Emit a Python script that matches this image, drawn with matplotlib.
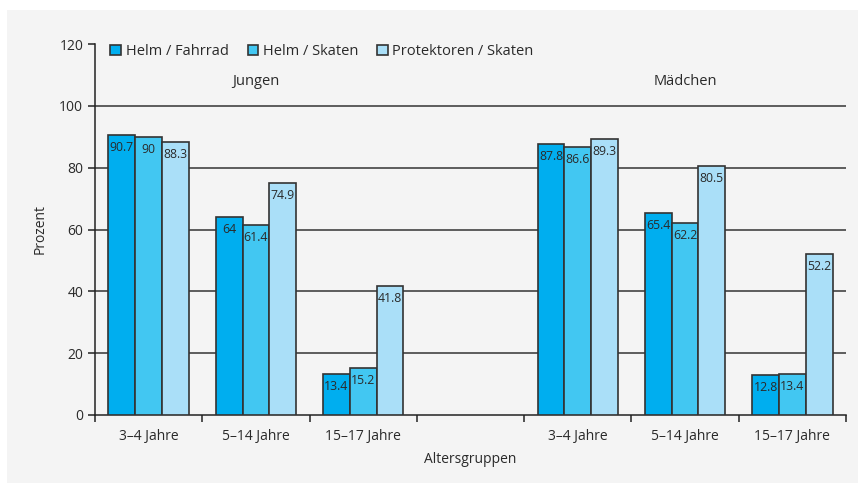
import matplotlib
matplotlib.use("Agg")
import matplotlib.pyplot as plt
from matplotlib.patches import Rectangle
import numpy as np

plt.rcParams['font.family'] = ['Open Sans', 'DejaVu Sans']

age_groups = ["3–4 Jahre", "5–14 Jahre", "15–17 Jahre"]
genders = ["Jungen", "Mädchen"]
series_names = ["Helm / Fahrrad", "Helm / Skaten", "Protektoren / Skaten"]

jungen_helm_fahrrad = [90.7, 64, 13.4]
jungen_helm_skaten = [90, 61.4, 15.2]
jungen_protektoren = [88.3, 74.9, 41.8]

maedchen_helm_fahrrad = [87.8, 65.4, 12.8]
maedchen_helm_skaten = [86.6, 62.2, 13.4]
maedchen_protektoren = [89.3, 80.5, 52.2]

colors = ["#00aeef", "#42c7f2", "#aadff8"]
edge = "#333333"
text_color = "#2a2a2a"

series = [
    jungen_helm_fahrrad + maedchen_helm_fahrrad,
    jungen_helm_skaten + maedchen_helm_skaten,
    jungen_protektoren + maedchen_protektoren,
]

# slots 0-2 for boys, slot 3 empty, slots 4-6 for girls
slots = np.array([0, 1, 2, 4, 5, 6])
bar_w = 0.25

fig = plt.figure(figsize=(8.58, 4.83), dpi=100)
fig.patch.set_facecolor("white")
fig.patches.append(Rectangle((7 / 858, 0), 1 - 7 / 858, 1 - 10 / 483,
                             transform=fig.transFigure, facecolor="#f4f4f4",
                             edgecolor="none", zorder=-10))

ax = fig.add_axes([95 / 858, 1 - 415 / 483, (846 - 95) / 858, (415 - 44) / 483])
ax.set_facecolor("none")

for i, (vals, c, name) in enumerate(zip(series, colors, series_names)):
    x = slots + (i - 1) * bar_w
    ax.bar(x, vals, width=bar_w, color=c, edgecolor=edge, linewidth=1.2,
           label=name, zorder=3)
    for xi, v in zip(x, vals):
        ax.annotate(f"{v:g}", (xi, v), xytext=(0, -9), textcoords="offset points",
                    ha="center", va="center", fontsize=8.8, color=text_color, zorder=4)

ax.set_xlim(-0.5, 6.5)
ax.set_ylim(0, 120)
ax.set_yticks([0, 20, 40, 60, 80, 100, 120])
for yv in [20, 40, 60, 80, 100]:
    ax.axhline(yv, color="#333333", linewidth=1.1, zorder=1)

ax.set_xticks(np.arange(-0.5, 7.0, 1.0))
ax.set_xticklabels([])
ax.set_xticks(slots, minor=True)
ax.set_xticklabels(age_groups + age_groups, minor=True)
ax.tick_params(axis="x", which="major", length=5, width=1.1, direction="out", color="#222222")
ax.tick_params(axis="x", which="minor", length=0, pad=10, labelsize=10, labelcolor=text_color)
ax.tick_params(axis="y", length=5, width=1.1, direction="out", color="#222222",
               labelsize=10, labelcolor=text_color)

for s in ["top", "right"]:
    ax.spines[s].set_visible(False)
for s in ["left", "bottom"]:
    ax.spines[s].set_color("#222222")
    ax.spines[s].set_linewidth(1.1)

ax.text(1, 108, genders[0], ha="center", va="center", fontsize=10.5, color=text_color)
ax.text(5, 108, genders[1], ha="center", va="center", fontsize=10.5, color=text_color)

ax.set_ylabel("Prozent", fontsize=10, color=text_color, labelpad=8)
ax.set_xlabel("Altersgruppen", fontsize=10, color=text_color, labelpad=6)

leg = ax.legend(loc="upper left", bbox_to_anchor=(0.003, 1.035), ncol=3, frameon=False,
                fontsize=10.5, handlelength=0.75, handleheight=0.75, handletextpad=0.3,
                columnspacing=1.3, labelcolor=text_color)

fig.savefig("out.png", dpi=100, facecolor=fig.get_facecolor())
